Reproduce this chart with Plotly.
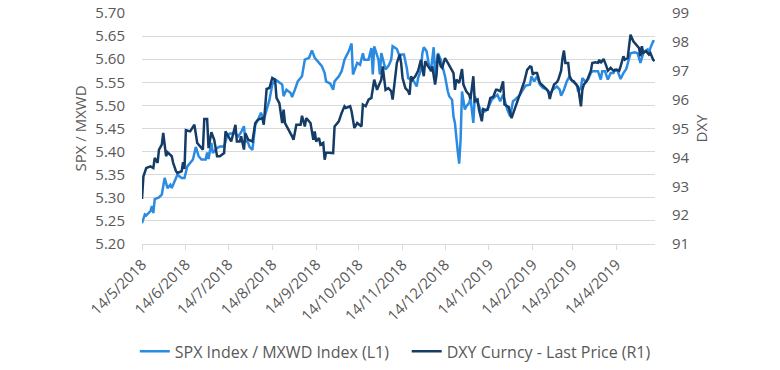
import pandas as pd
import plotly.graph_objects as go

START = "2018-05-14"

# SPX / MXWD (left axis): days since 14/5/2018 and values
spx_day = [0, 2, 3, 6, 7, 8, 9, 12, 14, 16, 18, 20, 21, 23, 25, 28, 30, 32, 34, 36, 38, 40, 42, 45, 46, 47, 49, 50,
           53, 55, 58, 60, 62, 66, 68, 70, 72, 73, 75, 76, 78, 80, 82, 84, 86, 88, 90,
           92, 94, 96, 99, 100, 102, 105, 106, 108, 110, 113, 115, 118, 119, 120, 122, 125, 127, 129, 130, 133, 135,
           136, 139, 141, 143, 146, 148, 149, 152, 154, 156, 157, 160, 162, 163, 164, 167, 168, 169, 172, 174, 176,
           177, 180, 182,
           183, 185, 187, 188, 190, 192, 194, 195, 197, 198, 199, 201, 202, 203, 204, 206, 207, 208, 209, 211, 213,
           214, 216, 217, 219, 220, 221, 222, 223, 224, 225, 226, 228, 229, 231, 232, 234, 235, 237, 239, 240, 242,
           244, 247, 249, 251, 253, 255, 257, 258, 260, 262, 264, 267, 269, 271, 274,
           275, 277, 279, 281, 283, 286, 288, 290, 293, 295, 296, 298, 300, 302, 304, 307, 308, 310, 311, 313, 315,
           317, 318, 321, 322, 324, 325, 327, 329, 331, 333, 334, 336, 338, 340, 342, 344, 345, 348, 350, 352, 354,
           355, 357, 358, 359, 361, 362]
spx_val = [5.245, 5.264, 5.262, 5.271, 5.282, 5.267, 5.297, 5.301, 5.307, 5.343, 5.321, 5.328, 5.321, 5.336, 5.350,
           5.343, 5.343, 5.368, 5.375, 5.383, 5.410, 5.390, 5.383, 5.383, 5.398, 5.384, 5.419, 5.397,
           5.408, 5.411, 5.411, 5.433, 5.439, 5.439, 5.433, 5.442, 5.455, 5.425, 5.419, 5.410, 5.404, 5.458, 5.469,
           5.484, 5.469, 5.491, 5.512,
           5.545, 5.556, 5.552, 5.545, 5.520, 5.534, 5.527, 5.518, 5.534, 5.552, 5.563, 5.599, 5.603, 5.610, 5.619,
           5.603, 5.592, 5.585, 5.570, 5.552, 5.547, 5.534,
           5.552, 5.563, 5.574, 5.599, 5.617, 5.634, 5.567, 5.592, 5.588, 5.613, 5.599, 5.599, 5.624, 5.567, 5.628,
           5.599, 5.567, 5.613, 5.578, 5.585, 5.599,
           5.628, 5.622, 5.606,
           5.610, 5.610, 5.581, 5.559, 5.556, 5.552, 5.541, 5.559, 5.577, 5.613, 5.626, 5.617, 5.599, 5.581, 5.574,
           5.626, 5.563, 5.592, 5.613, 5.599, 5.577,
           5.563, 5.530, 5.520, 5.512, 5.476, 5.462, 5.426, 5.400, 5.374, 5.426, 5.530, 5.491, 5.498, 5.505, 5.516,
           5.462, 5.520, 5.505, 5.491, 5.487, 5.487,
           5.491, 5.512, 5.518, 5.523, 5.509, 5.523, 5.502, 5.491, 5.476, 5.509, 5.514, 5.523, 5.534, 5.543, 5.545,
           5.563, 5.552, 5.563, 5.545, 5.538, 5.534, 5.523, 5.534, 5.541, 5.534, 5.521, 5.534, 5.552, 5.563, 5.552,
           5.545, 5.530, 5.538, 5.559, 5.552, 5.556,
           5.570, 5.574, 5.574, 5.574, 5.556, 5.574, 5.574, 5.556, 5.570, 5.570, 5.577, 5.574, 5.557, 5.570, 5.579,
           5.599, 5.613, 5.615, 5.613, 5.592, 5.613,
           5.617, 5.621, 5.613, 5.624, 5.639, 5.639]

# DXY (right axis): days since 14/5/2018 and values
dxy_day = [0, 1, 3, 6, 8, 9, 11, 12, 14, 15, 17, 18, 21, 22, 24, 25, 28, 29, 30, 31, 34, 37, 39, 41, 43, 44, 46, 47,
           49, 51, 53, 55, 58, 59, 61, 63, 66, 67, 69, 70, 72, 73, 75, 78, 80, 82, 85, 86, 88, 90,
           92, 94, 95, 97, 99, 100, 101, 103, 106, 107, 109, 112, 113, 115, 116, 119, 121, 122, 123, 125, 126, 128,
           129, 130, 133, 135, 136, 139, 141, 143, 144, 147, 148, 150, 152, 155, 156, 158, 160, 162, 164, 166, 167,
           169, 170, 172, 174, 176, 177, 179, 180, 182,
           183, 184, 186, 188, 189, 190, 191, 193, 195, 197, 199, 200, 202, 204, 205, 207, 208, 209, 211, 212, 214,
           216, 218, 220, 221, 222, 224, 226, 227, 229, 231, 232, 234, 235, 237, 238, 240, 241, 242, 244, 246, 248,
           250, 251, 253, 255, 256, 258, 259, 261, 263, 264, 266, 268, 270, 272, 274,
           275, 276, 277, 279, 281, 282, 284, 285, 287, 288, 289, 291, 293, 294, 296, 297, 298, 299, 301, 302, 303,
           305, 307, 308, 310, 311, 312, 314, 315, 317, 318, 320, 322, 323, 324, 326, 328, 329, 331, 333, 335, 337,
           338, 340, 341, 343, 344, 345, 347, 349, 351, 352, 353, 354, 356, 358, 359, 361, 362]
dxy_val = [92.56, 93.34, 93.63, 93.69, 93.63, 93.98, 93.81, 94.27, 94.44, 94.85, 94.04, 94.18, 94.04, 93.81, 93.52,
           93.46, 93.52, 93.83, 93.60, 94.94, 94.90, 95.13, 94.50, 94.38, 94.27, 95.33, 95.33, 94.32,
           94.87, 94.61, 94.04, 94.04, 94.15, 94.90, 94.73, 94.55, 95.13, 94.55, 94.55, 94.73, 94.27, 94.84, 94.61,
           94.55, 95.19, 95.31, 95.36, 95.13, 96.37, 96.40,
           96.75, 96.69, 96.06, 95.88, 95.19, 95.65, 95.19, 95.02, 94.73, 94.61, 95.13, 95.13, 95.44, 95.07, 95.36,
           95.19, 94.61, 94.90, 94.55, 94.67, 94.44, 94.50,
           93.92, 94.17, 94.17, 94.15, 95.07, 95.25, 95.54, 95.77, 95.71, 95.77, 95.60, 95.02, 95.19, 95.07, 95.83,
           95.77, 96.00, 96.06, 96.69, 96.34, 96.46,
           96.69, 97.15, 96.34, 96.40, 96.29, 96.00, 96.75, 97.27, 97.56,
           97.27, 96.75, 96.40, 96.29, 96.17, 96.81, 96.69, 96.81, 97.00, 97.38, 96.81, 97.33, 97.15, 97.03, 97.15,
           96.52, 96.86, 97.56, 97.15, 97.10, 97.44,
           97.27, 97.10, 96.92, 96.34, 96.69, 96.58, 97.06, 96.52, 96.29, 96.17, 96.02, 96.81, 95.94, 96.00, 95.65,
           95.25, 95.67, 95.65, 95.65, 96.06, 96.09,
           96.34, 96.34, 96.29, 96.63, 95.83, 95.77, 95.74, 95.36, 95.65, 95.83, 96.06, 96.40, 96.63, 97.03, 97.15,
           97.13, 96.86, 96.92, 96.92, 96.58, 96.52, 96.44, 96.40, 96.29, 96.02, 96.23, 96.52, 96.60, 96.69, 97.00,
           97.44, 97.70, 97.27, 97.27, 96.81, 96.69,
           96.63, 96.52, 96.44, 95.77, 96.34, 96.52, 96.63, 96.75, 97.00, 97.27, 97.29, 97.27, 97.38, 97.27, 97.41,
           97.15, 97.00, 97.10, 97.00, 97.04, 97.00,
           97.15, 97.50, 97.38, 97.44, 97.85, 98.25, 98.02, 97.90, 97.79, 97.50, 97.85, 97.62, 97.68, 97.56, 97.62,
           97.38, 97.33]

tick_dates = ["2018-05-14", "2018-06-14", "2018-07-14", "2018-08-14", "2018-09-14", "2018-10-14",
              "2018-11-14", "2018-12-14", "2019-01-14", "2019-02-14", "2019-03-14", "2019-04-14"]
tick_labels = ["14/5/2018", "14/6/2018", "14/7/2018", "14/8/2018", "14/9/2018", "14/10/2018",
               "14/11/2018", "14/12/2018", "14/1/2019", "14/2/2019", "14/3/2019", "14/4/2019"]

start = pd.Timestamp(START)
spx_x = start + pd.to_timedelta(spx_day, unit="D")
dxy_x = start + pd.to_timedelta(dxy_day, unit="D")

FONT = "Open Sans, Segoe UI, sans-serif"
GREY = "#595959"
CLEAR = "rgba(0,0,0,0)"

fig = go.Figure()
fig.add_trace(go.Scatter(x=spx_x, y=spx_val, mode="lines", name="SPX Index / MXWD Index (L1)",
                         line=dict(color="#2B8BE3", width=2.5), yaxis="y", legend="legend"))
fig.add_trace(go.Scatter(x=dxy_x, y=dxy_val, mode="lines", name="DXY Curncy - Last Price (R1)",
                         line=dict(color="#153C66", width=2.5), yaxis="y2", legend="legend2"))

leg_common = dict(orientation="h", yanchor="middle", y=-0.465, xanchor="left",
                  font=dict(size=16, color=GREY), itemwidth=30, bgcolor=CLEAR, borderwidth=0)

fig.update_layout(
    width=780, height=370,
    margin=dict(l=142, r=125, t=13, b=126, autoexpand=False),
    paper_bgcolor="white", plot_bgcolor="white",
    font=dict(family=FONT, color=GREY, size=15),
    showlegend=True,
    legend=dict(x=-0.014, **leg_common),
    legend2=dict(x=0.516, **leg_common),
    xaxis=dict(type="date", range=[start, start + pd.Timedelta(days=362.3)],
               tickvals=tick_dates, ticktext=tick_labels, tickangle=-45,
               showgrid=False, showline=True, linecolor="#d9d9d9", linewidth=1,
               ticks="outside", ticklen=5, tickcolor="#d9d9d9", tickfont=dict(size=15, color=GREY),
               zeroline=False, automargin=False),
    yaxis=dict(range=[5.2, 5.7], dtick=0.05, tick0=5.2, tickformat=".2f",
               showgrid=True, gridcolor="#d9d9d9", gridwidth=1, zeroline=False, automargin=False,
               ticks="outside", ticklen=13, tickcolor=CLEAR, tickfont=dict(size=15, color=GREY),
               title=dict(text="SPX / MXWD", font=dict(size=15, color=GREY), standoff=5)),
    yaxis2=dict(range=[91, 99], dtick=1, overlaying="y", side="right", automargin=False,
                showgrid=False, zeroline=False, ticks="outside", ticklen=13, tickcolor=CLEAR,
                tickfont=dict(size=15, color=GREY),
                title=dict(text="DXY", font=dict(size=15, color=GREY), standoff=7)),
)

fig.write_html("out.html", config={"displayModeBar": False},
               post_script="document.body.style.margin='0';")
